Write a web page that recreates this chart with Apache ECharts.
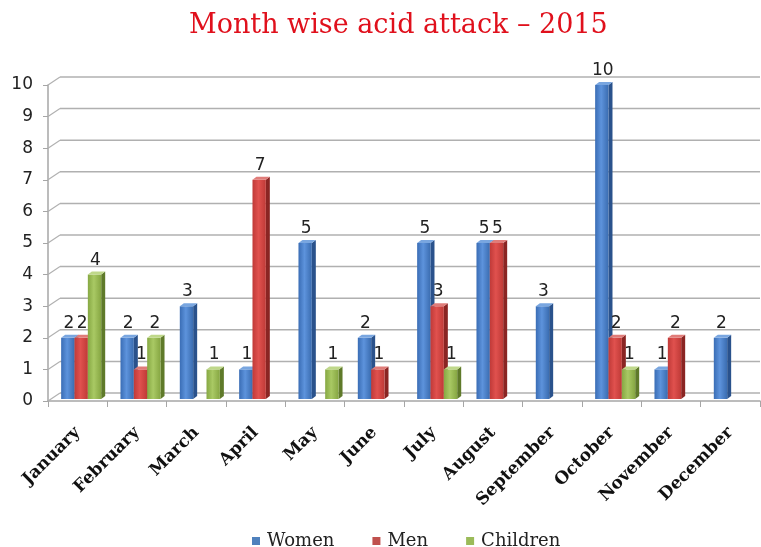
<!DOCTYPE html>
<html>
<head>
<meta charset="utf-8">
<script src="https://cdn.jsdelivr.net/npm/echarts@6/dist/echarts.min.js"></script>
<style>html,body{margin:0;padding:0;background:#fff}#c{width:761px;height:547px}</style>
</head>
<body>
<div id="c"></div>
<script>
const months = ['January','February','March','April','May','June','July','August','September','October','November','December'];
const women = [2, 2, 3, 1, 5, 2, 5, 5, 3, 10, 1, 2];
const men = [2, 1, 0, 7, 0, 1, 3, 5, 0, 2, 2, 0];
const children = [4, 2, 1, 0, 1, 0, 1, 0, 0, 1, 0, 0];
const yTicks = [0,1,2,3,4,5,6,7,8,9,10];

const palettes = [
  {name:'Women', legend:'#4f81bd', front:['#3a6db5','#5d93dc','#3a6cb0'], side:'#2a528c', top:'#79a6e0'},
  {name:'Men', legend:'#c0504d', front:['#c03a38','#e0514e','#bf3a37'], side:'#8a2523', top:'#e07c79'},
  {name:'Children', legend:'#9bbb59', front:['#86a843','#a9c964','#86a642'], side:'#5f7a2a', top:'#bfd88a'}
];
const seriesData = [women, men, children];

const chart = echarts.init(document.getElementById('c'));
const DX = 4, DY = 3, BACKX = 12, BACKY = 8;

function barRenderer(sIdx) {
  return function (params, api) {
    const cat = api.value(0), v = api.value(1);
    if (!v) return null;
    const top = api.coord([cat, v]);
    const base = api.coord([cat, 0]);
    const cw = api.size([1, 0])[0];
    const bw = cw * 0.225;
    const x0 = top[0] - 1.5 * bw + sIdx * bw + 3.5;
    const yT = top[1], yB = base[1] - 2;
    const p = palettes[sIdx];
    return {
      type: 'group',
      children: [
        {type:'polygon', shape:{points:[[x0+bw,yT],[x0+bw+DX,yT-DY],[x0+bw+DX,yB-DY],[x0+bw,yB]]}, style:{fill:p.side}},
        {type:'rect', shape:{x:x0, y:yT, width:bw, height:yB-yT},
          style:{fill:new echarts.graphic.LinearGradient(0,0,1,0,[{offset:0,color:p.front[0]},{offset:0.45,color:p.front[1]},{offset:1,color:p.front[2]}])}},
        {type:'polygon', shape:{points:[[x0,yT],[x0+DX,yT-DY],[x0+bw+DX,yT-DY],[x0+bw,yT]]}, style:{fill:p.top}},
        {type:'text', style:{text:String(v), x:x0+bw/2+1, y:yT-6, align:'center', verticalAlign:'bottom',
          font:'17px "DejaVu Sans"', fill:'#222'}}
      ]
    };
  };
}

const series = [
  {
    type:'custom', name:'_grid', silent:true, z:1,
    data: yTicks.map(v => [0, v]),
    renderItem: function (params, api) {
      const y = api.coord([0, api.value(1)])[1];
      const cs = params.coordSys;
      return {
        type:'group',
        children:[
          {type:'line', shape:{x1:cs.x, y1:y, x2:cs.x+BACKX, y2:y-BACKY}, style:{stroke:'#b0b0b0', lineWidth:1.2}},
          {type:'line', shape:{x1:cs.x+BACKX, y1:y-BACKY, x2:cs.x+cs.width, y2:y-BACKY}, style:{stroke:'#b0b0b0', lineWidth:1.5}}
        ]
      };
    }
  }
];
palettes.forEach((p, i) => {
  series.push({
    type:'custom', name:p.name, z:3,
    itemStyle:{color:p.legend},
    data: seriesData[i].map((v, k) => [k, v]),
    renderItem: barRenderer(i)
  });
});

chart.setOption({
  backgroundColor:'#ffffff',
  animation:false,
  title:{
    text:'Month wise acid attack – 2015',
    left:184, top:7,
    textStyle:{fontFamily:'DejaVu Serif', fontSize:27, fontWeight:'normal', color:'#e0101c'}
  },
  legend:{
    data:['Women','Men','Children'],
    top:527, left:247,
    icon:'rect', itemWidth:8, itemHeight:8, itemGap:38,
    textStyle:{fontFamily:'DejaVu Serif', fontSize:18, color:'#222', padding:[0,0,0,2]}
  },
  grid:{left:48, right:1, top:85, bottom:146},
  xAxis:{
    type:'category', data:months,
    axisLine:{lineStyle:{color:'#a6a6a6', width:1.5}},
    axisTick:{show:true, length:6, lineStyle:{color:'#a6a6a6'}},
    axisLabel:{rotate:45, interval:0, margin:29, fontFamily:'DejaVu Serif', fontWeight:'bold', fontSize:17, color:'#111'},
    splitLine:{show:false}
  },
  yAxis:{
    type:'value', min:0, max:10, interval:1,
    axisLine:{show:true, lineStyle:{color:'#a6a6a6', width:1.5}},
    axisTick:{show:true, length:5, lineStyle:{color:'#a6a6a6'}},
    axisLabel:{fontFamily:'DejaVu Sans', fontSize:17, color:'#222', margin:15},
    splitLine:{show:false}
  },
  series: series
});
</script>
</body>
</html>
